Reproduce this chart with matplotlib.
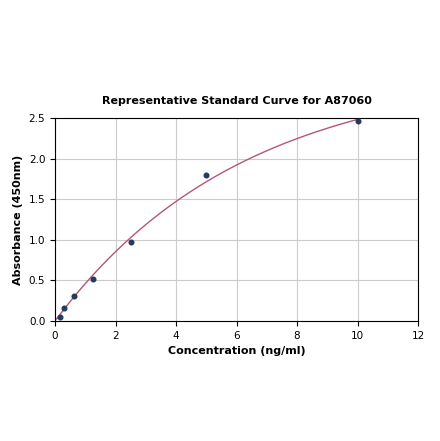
import numpy as np
import matplotlib
matplotlib.use("Agg")
import matplotlib.pyplot as plt

conc = [0.156, 0.3125, 0.625, 1.25, 2.5, 5, 10]
absorb = [0.05, 0.16, 0.31, 0.52, 0.97, 1.80, 2.46]

x = np.array(conc); y = np.array(absorb)
best = None
for b in np.linspace(0.01, 1, 1000):
    f = 1 - np.exp(-b * x)
    a = (f @ y) / (f @ f)
    err = np.sum((a * f - y) ** 2)
    if best is None or err < best[0]:
        best = (err, a, b)
_, a, b = best
xs = np.linspace(0.05, 10, 300)
ys = a * (1 - np.exp(-b * xs))

fig = plt.figure(figsize=(4.4, 4.41), dpi=100)
ax = fig.add_axes([0.125, 0.272, 0.825, 0.46])
ax.plot(xs, ys, color="#b5557a", lw=1)
ax.scatter(x, y, s=11, color="#253a5e", zorder=3)
ax.set_xlim(0, 12); ax.set_ylim(0, 2.5)
ax.set_xticks(range(0, 13, 2)); ax.set_yticks([0, 0.5, 1.0, 1.5, 2.0, 2.5])
ax.grid(True, color="#cccccc", lw=0.8)
ax.tick_params(labelsize=7.5)
ax.set_xlabel("Concentration (ng/ml)", fontsize=8, fontweight="bold")
ax.set_ylabel("Absorbance (450nm)", fontsize=8, fontweight="bold")
ax.set_title("Representative Standard Curve for A87060", fontsize=8, fontweight="bold", pad=10)
fig.savefig("out.png", dpi=100)
